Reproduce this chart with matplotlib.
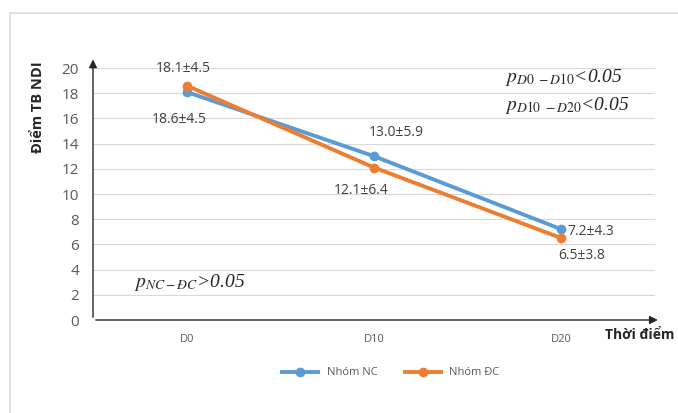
import matplotlib
matplotlib.use("Agg")
import matplotlib.pyplot as plt
from matplotlib.patches import Rectangle

# data
times = ["D0", "D10", "D20"]
nc_mean = [18.1, 13.0, 7.2]
nc_sd = [4.5, 5.9, 4.3]
dc_mean = [18.6, 12.1, 6.5]
dc_sd = [4.5, 6.4, 3.8]
yticks = list(range(0, 21, 2))

blue = "#5B9BD5"
orange = "#ED7D31"
grey = "#595959"

plt.rcParams["font.family"] = ["Open Sans", "DejaVu Sans"]
plt.rcParams["mathtext.fontset"] = "stix"

fig = plt.figure(figsize=(6.78, 4.13), dpi=100)
fig.patches.append(Rectangle((10 / 678, -0.01), 1.0, (413 - 13) / 413 + 0.01,
                             transform=fig.transFigure, fill=False,
                             edgecolor="#d9d9d9", linewidth=1.2))

ax = fig.add_axes([93 / 678, 93 / 413, (655 - 93) / 678, (320 - 68) / 413])
x = [i + 0.5 for i in range(len(times))]

ax.plot(x, nc_mean, color=blue, lw=2.8, marker="o", ms=6, label="Nhóm NC", zorder=3)
ax.plot(x, dc_mean, color=orange, lw=2.8, marker="o", ms=6, label="Nhóm ĐC", zorder=4)

ax.set_xlim(0, 3)
ax.set_ylim(0, 20)
ax.set_yticks(yticks)
ax.set_xticks(x)
ax.set_xticklabels(times)
ax.tick_params(axis="y", length=0, labelsize=11, colors=grey, pad=10)
ax.tick_params(axis="x", length=0, labelsize=8, colors=grey, pad=10)
ax.grid(axis="y", color="#d9d9d9", lw=0.8)
for s in ax.spines.values():
    s.set_visible(False)

# arrow axes
ax.annotate("", xy=(0, 1.045), xytext=(0, 0), xycoords="axes fraction",
            arrowprops=dict(arrowstyle="-|>", color="#262626", lw=1, mutation_scale=12),
            annotation_clip=False)
ax.annotate("", xy=(1.01, 0), xytext=(0, 0), xycoords="axes fraction",
            arrowprops=dict(arrowstyle="-|>", color="#262626", lw=1, mutation_scale=12),
            annotation_clip=False)

# data labels
lbl = dict(fontsize=10, color="#404040", va="center")
ax.text(x[0] - 0.02, nc_mean[0] + 1.9, f"{nc_mean[0]:.1f}±{nc_sd[0]:.1f}", ha="center", **lbl)
ax.text(x[0] - 0.04, dc_mean[0] - 2.7, f"{dc_mean[0]:.1f}±{dc_sd[0]:.1f}", ha="center", **lbl)
ax.text(x[1] + 0.12, nc_mean[1] + 1.9, f"{nc_mean[1]:.1f}±{nc_sd[1]:.1f}", ha="center", **lbl)
ax.text(x[1] - 0.07, dc_mean[1] - 1.8, f"{dc_mean[1]:.1f}±{dc_sd[1]:.1f}", ha="center", **lbl)
ax.text(x[2] + 0.03, nc_mean[2] - 0.2, f"{nc_mean[2]:.1f}±{nc_sd[2]:.1f}", ha="left", **lbl)
ax.text(x[2] + 0.11, dc_mean[2] - 1.35, f"{dc_mean[2]:.1f}±{dc_sd[2]:.1f}", ha="center", **lbl)

# p-values
pkw = dict(fontsize=14, color="#262626", style="italic", family="Liberation Serif")
ax.text(2.2, 18.9, r"$p_{D0\ -D10}$<0.05", **pkw)
ax.text(2.2, 16.7, r"$p_{D10\ -D20}$<0.05", **pkw)
ax.text(0.22, 2.6, r"$p_{NC-ĐC}$>0.05", **pkw)

ax.set_ylabel("Điểm TB NDI", fontsize=10.5, fontweight="bold", color="#262626")
ax.yaxis.set_label_coords(-0.085, 0.845)
ax.text(0.973, -0.06, "Thời điểm", transform=ax.transAxes, ha="center", va="center",
        fontsize=10, fontweight="bold", color="#262626")

ax.legend(loc="center", bbox_to_anchor=(0.53, -0.21), ncol=2, frameon=False,
          fontsize=8, labelcolor=grey, handlelength=3.2, columnspacing=2.5)

fig.savefig("out.png", dpi=100)
